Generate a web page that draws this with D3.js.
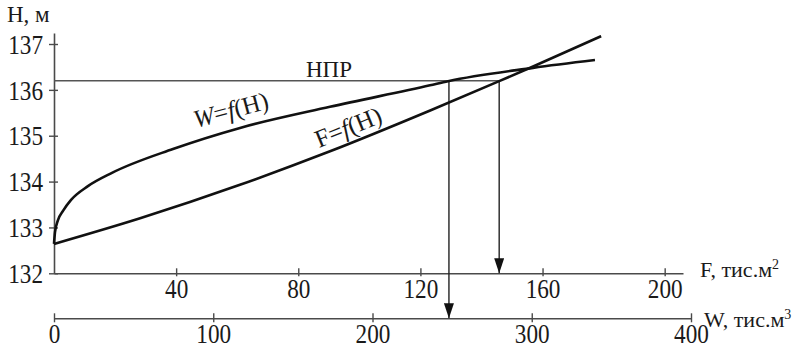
<!DOCTYPE html>
<html>
<head>
<meta charset="utf-8">
<script src="https://cdn.jsdelivr.net/npm/d3@7"></script>
<style>
  body { margin: 0; background: #fff; }
</style>
</head>
<body>
<svg id="chart" width="803" height="348" font-family="'Liberation Serif', 'Times New Roman', Times, serif"></svg>
<script>
// рівні, м
var hTicks = [132, 133, 134, 135, 136, 137];
var fTicks = [40, 80, 120, 160, 200];
var wTicks = [0, 100, 200, 300, 400];

// W = f(H), тис.м3
var wVolume = [0, 0.63, 2.5, 5.65, 10.7, 21.3, 36.4, 74.7, 116.8, 173.3, 236.1, 247.4, 300.8, 339.7];
var wLevel  = [132.64, 132.9, 133.16, 133.36, 133.6, 133.9, 134.19, 134.71, 135.17, 135.63, 136.1, 136.19, 136.48, 136.65];

// F = f(H), тис.м2
var fArea  = [0, 28.2, 60.9, 90.4, 123.2, 145.8, 156.9, 179.2];
var fLevel = [132.64, 133.2, 133.93, 134.66, 135.55, 136.19, 136.51, 137.17];

// НПР
var nprLevel = 136.2;
var nprArea = 145.8;
var nprVolume = 248;

var serif = "'Liberation Serif', 'Times New Roman', Times, serif";
var svg = d3.select("#chart");
var y = d3.scaleLinear().domain([132, 137.24]).range([273.3, 33]);
var xF = d3.scaleLinear().domain([0, 206]).range([54, 683]);
var xW = d3.scaleLinear().domain([0, 400]).range([54, 691]);
var axisColor = "#4a4a4a";
var sx = 0.86; // цифри трохи вузькі

// вісь H
var gy = svg.append("g").attr("transform", "translate(" + xF(0) + ",0)")
	.call(d3.axisLeft(y).tickValues(hTicks).tickFormat(d3.format("d"))
		.tickSizeInner(5).tickSizeOuter(0));
gy.selectAll("line").attr("x1", 4);
gy.selectAll("text").attr("x", -11 / sx).attr("transform", "scale(" + sx + ",1)")
	.attr("dy", "0.34em");

// вісь F
var gf = svg.append("g").attr("transform", "translate(0," + y(132) + ")")
	.call(d3.axisBottom(xF).tickValues(fTicks).tickSizeInner(-5).tickSizeOuter(0));
gf.selectAll("line").attr("y1", 3);
gf.selectAll("text").attr("y", 25).attr("dy", 0).attr("transform", "scale(" + sx + ",1)");

// вісь W
var gw = svg.append("g").attr("transform", "translate(0,318.3)")
	.call(d3.axisBottom(xW).tickValues(wTicks).tickSizeInner(-5).tickSizeOuter(0));
gw.selectAll("line").attr("y1", 4);
gw.selectAll("text").attr("y", 24.5).attr("dy", 0).attr("transform", "scale(" + sx + ",1)");

[gy, gf, gw].forEach(function(g) {
	g.attr("font-family", serif).attr("font-size", 27);
	g.select(".domain").attr("stroke", axisColor).attr("stroke-width", 1.6);
	g.selectAll(".tick line").attr("stroke", axisColor).attr("stroke-width", 1.4);
	g.selectAll("text").attr("fill", "#1a1a1a");
});

function label(x, yy, size) {
	return svg.append("text").attr("x", x).attr("y", yy)
		.attr("font-family", serif).attr("font-size", size).attr("fill", "#1a1a1a");
}

// підписи осей
label(7, 22, 23).text("H, м");
var tf = label(700, 277, 22);
tf.append("tspan").text("F, тис.м");
tf.append("tspan").attr("dy", -8).attr("font-size", 14).text("2");
var tw = label(704, 327, 22);
tw.append("tspan").text("W, тис.м");
tw.append("tspan").attr("dy", -8).attr("font-size", 14).text("3");

// НПР
svg.append("line")
	.attr("x1", xF(0)).attr("x2", xF(nprArea))
	.attr("y1", y(nprLevel)).attr("y2", y(nprLevel))
	.attr("stroke", "#555").attr("stroke-width", 1.5);
label(306, 77, 23).text("НПР");

// стрілки
svg.append("defs").append("marker")
	.attr("id", "arr").attr("viewBox", "0 0 15 10").attr("refX", 15).attr("refY", 5)
	.attr("markerWidth", 15).attr("markerHeight", 10).attr("markerUnits", "userSpaceOnUse")
	.attr("orient", "auto")
	.append("path").attr("d", "M0,0L15,5L0,10Z").attr("fill", "#111");

svg.append("line")
	.attr("x1", xW(nprVolume)).attr("x2", xW(nprVolume))
	.attr("y1", y(nprLevel)).attr("y2", 318.3)
	.attr("stroke", "#222").attr("stroke-width", 1.4).attr("marker-end", "url(#arr)");
svg.append("line")
	.attr("x1", xF(nprArea)).attr("x2", xF(nprArea))
	.attr("y1", y(nprLevel)).attr("y2", y(132))
	.attr("stroke", "#222").attr("stroke-width", 1.4).attr("marker-end", "url(#arr)");

// криві
var wLine = d3.line().x(function(d) { return xW(d[0]); }).y(function(d) { return y(d[1]); })
	.curve(d3.curveMonotoneX);
var fLine = d3.line().x(function(d) { return xF(d[0]); }).y(function(d) { return y(d[1]); })
	.curve(d3.curveMonotoneX);

svg.append("path").datum(d3.zip(wVolume, wLevel)).attr("d", wLine)
	.attr("fill", "none").attr("stroke", "#111").attr("stroke-width", 2.6);
svg.append("path").datum(d3.zip(fArea, fLevel)).attr("d", fLine)
	.attr("fill", "none").attr("stroke", "#111").attr("stroke-width", 2.6);

// підписи кривих
var lw = svg.append("text").attr("transform", "translate(196,128) rotate(-15)")
	.attr("font-family", serif).attr("font-size", 25).attr("fill", "#1a1a1a");
lw.append("tspan").attr("font-style", "italic").text("W");
lw.append("tspan").text("=");
lw.append("tspan").attr("font-style", "italic").text("f");
lw.append("tspan").text("(H)");

var lf = svg.append("text").attr("transform", "translate(319,148) rotate(-22)")
	.attr("font-family", serif).attr("font-size", 25).attr("fill", "#1a1a1a");
lf.append("tspan").text("F=");
lf.append("tspan").attr("font-style", "italic").text("f");
lf.append("tspan").text("(H)");
</script>
</body>
</html>
